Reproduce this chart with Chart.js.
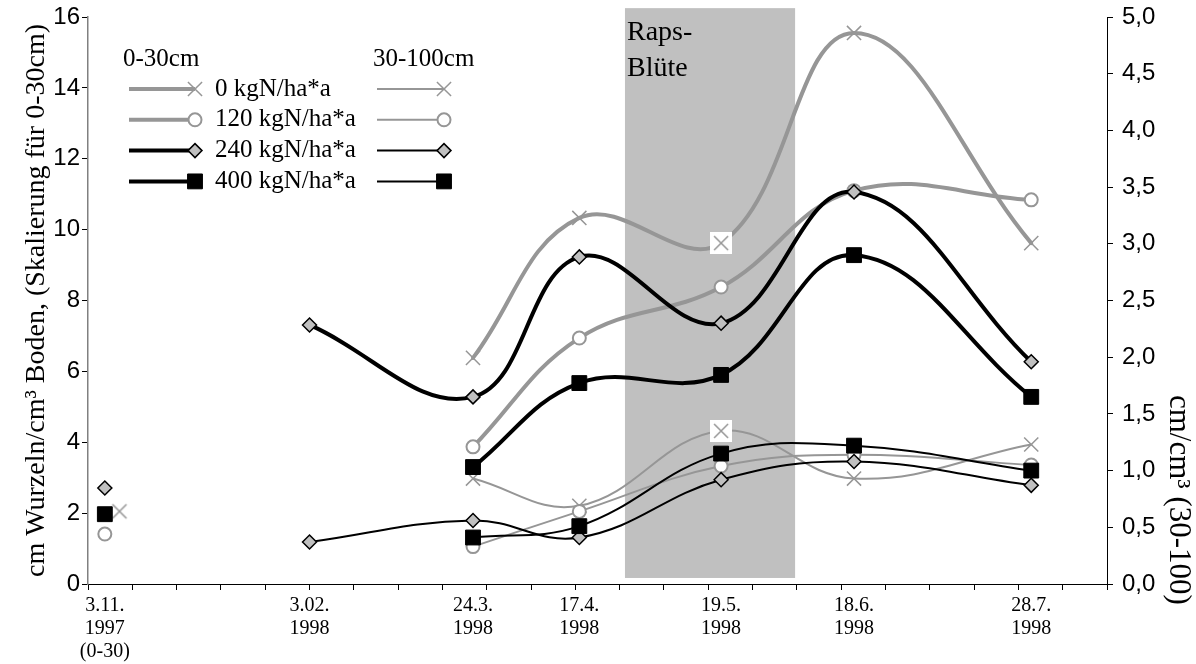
<!DOCTYPE html>
<html>
<head>
<meta charset="utf-8">
<script src="https://cdn.jsdelivr.net/npm/chart.js@4.4.1/dist/chart.umd.min.js"></script>
<style>
  html, body { margin: 0; padding: 0; background: #fff; }
  #chart { display: block; }
</style>
</head>
<body>
<canvas id="chart" width="1196" height="664"></canvas>
<script>
// sampling dates (x labels) and where they sit on the x axis (one axis unit = 10 days)
const dateLabels = [
  ['3.11.', '1997', '(0-30)'],
  ['3.02.', '1998'],
  ['24.3.', '1998'],
  ['17.4.', '1998'],
  ['19.5.', '1998'],
  ['18.6.', '1998'],
  ['28.7.', '1998']
];
const datePos = [0.38, 5.0, 8.69, 11.09, 14.29, 17.29, 21.29];
const xMax = 23;

// 0-30 cm, left axis (first value = 3.11.1997, shown as single points)
const top0   = [2.05, null, 6.38, 10.33, 9.62, 15.55, 9.62];
const top120 = [1.41, null, 3.87, 6.94, 8.38, 11.10, 10.84];
const top240 = [2.71, 7.31, 5.28, 9.23, 7.36, 11.06, 6.27];
const top400 = [1.97, null, 3.30, 5.67, 5.90, 9.28, 5.28];

// 30-100 cm, right axis
const sub0   = [null, null, 0.93, 0.69, 1.35, 0.93, 1.23];
const sub120 = [null, null, 0.33, 0.64, 1.04, 1.14, 1.05];
const sub240 = [null, 0.37, 0.56, 0.41, 0.92, 1.08, 0.87];
const sub400 = [null, null, 0.41, 0.51, 1.15, 1.22, 1.00];

const seriesNames = ['0 kgN/ha*a', '120 kgN/ha*a', '240 kgN/ha*a', '400 kgN/ha*a'];

// rape flowering period (x range) and band height on left axis
const bloomX = [12.12, 15.96];
const bloomY = [0.17, 16.25];

const GRAY = '#969696';
const BLACK = '#000000';
const LIGHT = '#c0c0c0';
const SERIF = '"Liberation Serif", "Times New Roman", serif';
const SANS = '"Liberation Sans", Arial, sans-serif';

// x marker on a white square (as it appears at 19.5.)
function makeCrossBox() {
  const c = document.createElement('canvas');
  c.width = 22; c.height = 22;
  const g = c.getContext('2d');
  g.fillStyle = '#fff';
  g.fillRect(0, 0, 22, 22);
  g.strokeStyle = GRAY;
  g.lineWidth = 1.5;
  g.beginPath();
  g.moveTo(4, 4); g.lineTo(18, 18);
  g.moveTo(18, 4); g.lineTo(4, 18);
  g.stroke();
  return c;
}
const crossBox = makeCrossBox();

const styles = [
  { color: GRAY,  fill: '#fff', point: 'crossRot', radius: 10, pw: 1.5 },
  { color: GRAY,  fill: '#fff', point: 'circle',   radius: 6.5, pw: 2 },
  { color: BLACK, fill: LIGHT,  point: 'rectRot',  radius: 7,  pw: 1.5 },
  { color: BLACK, fill: BLACK,  point: 'rect',     radius: 10.5, pw: 1 }
];

function toPoints(values, from) {
  const pts = [];
  values.forEach((v, i) => {
    if (i >= from && v !== null) pts.push({ x: datePos[i], y: v });
  });
  return pts;
}

function lineSet(values, k, axis, width) {
  const st = styles[k];
  return {
    label: seriesNames[k],
    data: toPoints(values, 1),
    yAxisID: axis,
    borderColor: st.color,
    borderWidth: width,
    borderJoinStyle: 'round',
    borderCapStyle: 'round',
    tension: 0.4,
    pointStyle: k === 0 ? (c => (c.raw && c.raw.x === datePos[4] ? crossBox : 'crossRot')) : st.point,
    pointRadius: st.radius,
    pointBackgroundColor: st.fill,
    pointBorderColor: st.color,
    pointBorderWidth: st.pw
  };
}

function firstSet(values, k) {
  const st = styles[k];
  // the 0 kgN sample is drawn a little to the right, half hidden, in the original
  const x = k === 0 ? datePos[0] + 0.33 : datePos[0];
  return {
    label: seriesNames[k] + ' 3.11.',
    data: [{ x: x, y: values[0] }],
    yAxisID: 'y',
    showLine: false,
    pointStyle: k === 0 ? crossBox : st.point,
    pointRadius: st.radius,
    pointBackgroundColor: st.fill,
    pointBorderColor: st.color,
    pointBorderWidth: st.pw
  };
}

const tops = [top0, top120, top240, top400];
const subs = [sub0, sub120, sub240, sub400];
const datasets = [];
for (let k = 3; k >= 0; k--) {
  datasets.push(firstSet(tops[k], k));
  datasets.push(lineSet(tops[k], k, 'y', 4));
  datasets.push(lineSet(subs[k], k, 'y2', 2));
}

const bloomBand = {
  id: 'bloomBand',
  beforeDatasetsDraw(chart) {
    const { ctx, scales } = chart;
    const x0 = scales.x.getPixelForValue(bloomX[0]);
    const x1 = scales.x.getPixelForValue(bloomX[1]);
    const y0 = scales.y.getPixelForValue(bloomY[1]);
    const y1 = scales.y.getPixelForValue(bloomY[0]);
    ctx.save();
    ctx.fillStyle = LIGHT;
    ctx.fillRect(x0, y0, x1 - x0, y1 - y0);
    ctx.fillStyle = '#000';
    ctx.font = '28px ' + SERIF;
    ctx.textAlign = 'left';
    ctx.textBaseline = 'middle';
    ctx.fillText('Raps-', x0 + 2, 33);
    ctx.fillText('Blüte', x0 + 2, 69);
    ctx.restore();
  }
};

const legendBox = {
  id: 'legendBox',
  afterDraw(chart) {
    const ctx = chart.ctx;
    const H = Chart.helpers;
    ctx.save();
    ctx.fillStyle = '#000';
    ctx.font = '25px ' + SERIF;
    ctx.textBaseline = 'middle';
    ctx.textAlign = 'left';
    ctx.fillText('0-30cm', 123, 59);
    ctx.fillText('30-100cm', 373, 59);
    for (let k = 0; k < 4; k++) {
      const st = styles[k];
      const y = 89 + k * 30.8;
      [[129, 195, 4], [377, 444, 2]].forEach(([a, b, w]) => {
        ctx.strokeStyle = st.color;
        ctx.lineWidth = w;
        ctx.beginPath();
        ctx.moveTo(a, y);
        ctx.lineTo(b, y);
        ctx.stroke();
        ctx.fillStyle = st.fill;
        ctx.strokeStyle = st.color;
        ctx.lineWidth = st.pw;
        H.drawPoint(ctx, { pointStyle: st.point, radius: st.radius, borderWidth: st.pw, rotation: 0 }, b, y);
      });
      ctx.fillStyle = '#000';
      ctx.fillText(seriesNames[k], 215, y);
    }
    // right axis title
    const s = chart.scales.y2;
    ctx.font = '31px ' + SERIF;
    ctx.translate(s.right - 18, 395);
    ctx.rotate(Math.PI / 2);
    ctx.textAlign = 'left';
    ctx.fillText('cm/cm³ (30-100)', 0, 0);
    ctx.restore();
  }
};

new Chart(document.getElementById('chart'), {
  type: 'line',
  data: { datasets },
  plugins: [bloomBand, legendBox],
  options: {
    responsive: false,
    animation: false,
    devicePixelRatio: 1,
    layout: { padding: { top: 17, left: 0, right: 0, bottom: 0 } },
    plugins: { legend: { display: false }, tooltip: { enabled: false } },
    scales: {
      x: {
        type: 'linear',
        min: 0,
        max: xMax,
        afterBuildTicks: (s) => {
          const t = [];
          for (let i = 0; i <= xMax; i++) t.push({ value: i, mark: true });
          datePos.forEach(p => t.push({ value: p, mark: false }));
          s.ticks = t;
        },
        ticks: {
          autoSkip: false,
          maxRotation: 0,
          minRotation: 0,
          padding: 4,
          color: '#000',
          font: { family: SERIF, size: 20, lineHeight: 1.15 },
          callback: (v, i, ticks) => (ticks[i].mark ? '' : dateLabels[datePos.indexOf(v)])
        },
        grid: {
          drawOnChartArea: false,
          tickLength: 6,
          tickColor: c => (c.tick && c.tick.mark ? '#000' : 'rgba(0,0,0,0)')
        },
        border: { color: '#000', width: 1 },
        afterFit: (s) => { s.height = 80; s.paddingLeft = 0; s.paddingRight = 0; }
      },
      y: {
        position: 'left',
        min: 0,
        max: 16,
        ticks: { stepSize: 2, padding: 2, color: '#000', font: { family: SANS, size: 24 } },
        grid: { drawOnChartArea: false, tickLength: 6, tickColor: '#000' },
        border: { color: '#808080', width: 1.5 },
        title: {
          display: true,
          text: 'cm Wurzeln/cm³ Boden, (Skalierung für 0-30cm)',
          color: '#000',
          font: { family: SERIF, size: 28 },
          padding: { top: 20, bottom: 0 }
        },
        afterFit: (s) => { s.width = 88; s.paddingTop = 0; s.paddingBottom = 0; }
      },
      y2: {
        position: 'right',
        min: 0,
        max: 5,
        ticks: {
          stepSize: 0.5,
          padding: 9,
          color: '#000',
          font: { family: SANS, size: 24 },
          callback: v => v.toFixed(1).replace('.', ',')
        },
        grid: { drawOnChartArea: false, tickLength: 6, tickColor: '#000' },
        border: { color: '#000', width: 1 },
        afterFit: (s) => { s.width = 89; s.paddingTop = 0; s.paddingBottom = 0; }
      }
    }
  }
});
</script>
</body>
</html>
